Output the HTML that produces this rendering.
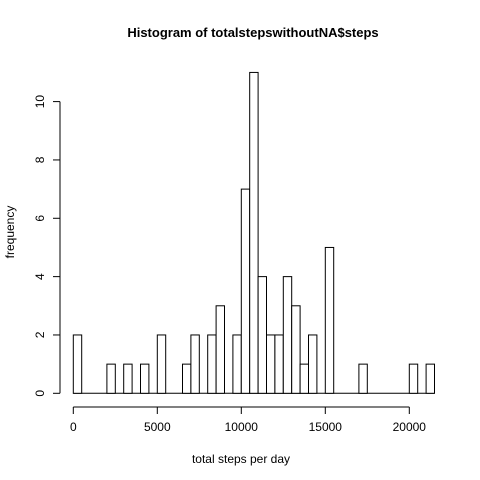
<!DOCTYPE html>
<html><head><meta charset="utf-8"><style>body{margin:0;background:#fff}svg{display:block}text{font-family:"Liberation Sans",Arial,sans-serif;font-size:12px;fill:#000}</style></head>
<body>
<svg id="c" width="480" height="480">
<text x="253" y="37" text-anchor="middle" style="font-weight:bold;font-size:13px">Histogram of totalstepswithoutNA$steps</text>
<text x="241" y="463" text-anchor="middle">total steps per day</text>
<text transform="translate(14,232) rotate(-90)" text-anchor="middle">frequency</text>
<g id="bars"></g><g id="axes"></g>
</svg>
<script>
const binWidth = 500;
const counts = [2,0,0,0,1,0,1,0,1,0,2,0,0,1,2,0,2,3,0,2,7,11,4,2,2,4,3,1,2,0,5,0,0,0,1,0,0,0,0,0,1,0,1];
const xTicks = [0,5000,10000,15000,20000];
const yTicks = [0,2,4,6,8,10];
const NS="http://www.w3.org/2000/svg";
const sx = v => 73.3 + v*84/5000;
const sy = v => 393.3 - v*29.17;
const bars=document.getElementById('bars'), axes=document.getElementById('axes');
function mk(tag,attrs,parent){const e=document.createElementNS(NS,tag);for(const k in attrs)e.setAttribute(k,attrs[k]);parent.appendChild(e);return e;}
const base=mk('line',{x1:sx(0),x2:sx(counts.length*binWidth),y1:sy(0),y2:sy(0),stroke:'#000'},bars);


counts.forEach((c,i)=>{
  if(c<=0) return;
  const x0=sx(i*binWidth), x1=sx((i+1)*binWidth);
  const r=mk('rect',{x:x0,y:sy(c),width:x1-x0,height:sy(0)-sy(c),fill:'#fff',stroke:'#000','stroke-width':1},bars);
  
  
});
const xa=mk('line',{x1:sx(xTicks[0]),x2:sx(xTicks[xTicks.length-1]),y1:407,y2:407,stroke:'#000'},axes);


xTicks.forEach(t=>{
  mk('line',{x1:sx(t),x2:sx(t),y1:407,y2:414,stroke:'#000'},axes);
  const tx=mk('text',{x:sx(t),y:431,'text-anchor':'middle'},axes);tx.textContent=t;
  
  
});
const ya=mk('line',{x1:60,x2:60,y1:sy(yTicks[0]),y2:sy(yTicks[yTicks.length-1]),stroke:'#000'},axes);


yTicks.forEach(t=>{
  mk('line',{x1:53,x2:60,y1:sy(t),y2:sy(t),stroke:'#000'},axes);
  const tx=mk('text',{transform:`translate(44,${sy(t)}) rotate(-90)`,'text-anchor':'middle'},axes);tx.textContent=t;
  
  
});
</script>
</body></html>
